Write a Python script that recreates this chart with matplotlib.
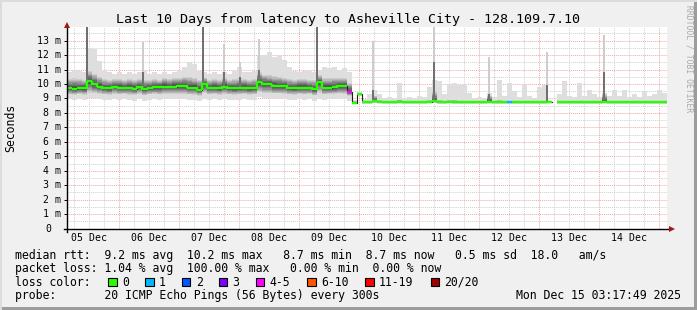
import numpy as np
import matplotlib
matplotlib.use("Agg")
import matplotlib.pyplot as plt
from matplotlib.patches import Rectangle
from matplotlib.lines import Line2D

# ---------------- data ----------------
start_hour = 3.3          # hours after 05 Dec 00:00 (Dec 5 03:18)
step_hours = 2.0          # one sample every 2 hours

median_ms = [
    9.72, 9.68, 9.72, 9.70, 10.20, 10.00, 9.83, 9.72, 9.70, 9.83,
    9.75, 9.75, 9.75, 9.68, 9.83, 9.65, 9.72, 9.78, 9.78, 9.83,
    9.83, 9.83, 9.87, 9.87, 9.75, 9.75, 9.62, 10.00, 9.75, 9.75,
    9.72, 9.83, 9.72, 9.70, 9.72, 9.75, 9.70, 9.72, 10.13, 9.99,
    9.99, 9.87, 9.87, 9.87, 9.72, 9.72, 9.75, 9.75, 9.75, 9.63,
    10.13, 9.75, 9.75, 9.78, 9.87, 9.87, 9.45, 8.68, 9.30, 8.74,
    8.76, 8.80, 8.78, 8.74, 8.76, 8.76, 8.78, 8.76, 8.76, 8.75,
    8.76, 8.76, 8.78, 8.80, 8.74, 8.76, 8.78, 8.76, 8.75, 8.76,
    8.76, 8.74, 8.75, 8.76, 8.78, 8.74, 8.76, 8.75, 8.73, 8.76,
    8.75, 8.76, 8.74, 8.75, 8.76, 8.76, 8.78, np.nan, 8.76, 8.75,
    8.76, 8.74, 8.76, 8.75, 8.76, 8.74, 8.76, 8.78, 8.75, 8.76,
    8.74, 8.76, 8.75, 8.76, 8.74, 8.76, 8.75, 8.76, 8.75, 8.76,
]

loss_count = [0] * 120
loss_count[56] = 4
loss_count[88] = 1
loss_count[97] = 20

smoke_hi = [
    10.85, 11.0, 10.9, 10.8, 12.5, 12.4, 11.6, 10.9, 10.8, 10.7,
    10.8, 10.7, 10.8, 10.7, 10.8, 10.9, 10.7, 10.8, 10.7, 10.8,
    10.7, 10.8, 10.9, 11.2, 11.5, 11.4, 10.9, 10.8, 10.7, 10.8,
    10.7, 10.8, 10.7, 10.9, 11.2, 10.8, 10.8, 10.9, 12.0, 12.0,
    12.2, 11.9, 12.0, 11.7, 11.2, 10.9, 10.8, 10.9, 10.9, 10.8,
    11.0, 11.2, 11.1, 11.2, 11.0, 11.1, 10.8, 8.90, 9.45, 8.95,
    9.30, 9.60, 9.30, 9.00, 9.10, 9.00, 10.1, 9.00, 9.10, 9.00,
    9.20, 9.10, 9.80, 10.3, 10.2, 9.30, 9.95, 10.1, 9.90, 10.0,
    9.40, 9.00, 9.10, 9.00, 9.40, 9.10, 10.3, 9.20, 10.1, 9.50,
    9.10, 9.95, 9.20, 9.00, 9.80, 9.90, 9.40, np.nan, 9.30, 10.2,
    9.20, 9.10, 10.1, 9.20, 9.60, 9.30, 9.10, 9.40, 9.20, 9.60,
    9.20, 9.60, 9.10, 9.30, 9.10, 9.50, 9.20, 9.30, 9.60, 9.40,
]

smoke_hi2 = [
    10.35, 10.40, 10.35, 10.30, 10.90, 10.70, 10.50, 10.35, 10.30, 10.35,
    10.35, 10.30, 10.35, 10.30, 10.35, 10.30, 10.30, 10.35, 10.30, 10.40,
    10.35, 10.40, 10.45, 10.50, 10.50, 10.40, 10.30, 10.45, 10.30, 10.35,
    10.30, 10.40, 10.30, 10.35, 10.40, 10.35, 10.30, 10.35, 10.80, 10.65,
    10.60, 10.55, 10.50, 10.45, 10.35, 10.30, 10.35, 10.35, 10.30, 10.30,
    10.60, 10.40, 10.40, 10.45, 10.45, 10.45, 10.10, 8.82, 9.36, 8.84,
    8.86, 9.20, 8.88, 8.84, 8.85, 8.85, 8.90, 8.85, 8.85, 8.84,
    8.86, 8.85, 8.88, 9.50, 8.90, 8.85, 8.88, 8.88, 8.86, 8.86,
    8.85, 8.84, 8.85, 8.85, 9.20, 8.84, 8.88, 8.85, 8.84, 8.86,
    8.85, 8.86, 8.84, 8.85, 8.86, 8.86, 9.20, np.nan, 8.86, 8.86,
    8.86, 8.84, 8.86, 8.85, 8.86, 8.84, 8.86, 9.30, 8.85, 8.86,
    8.84, 8.86, 8.85, 8.86, 8.84, 8.86, 8.85, 8.86, 8.85, 8.86,
]

smoke_lo2 = [
    9.28, 9.25, 9.30, 9.26, 9.40, 9.35, 9.30, 9.28, 9.25, 9.30,
    9.28, 9.30, 9.26, 9.24, 9.30, 9.22, 9.28, 9.30, 9.28, 9.32,
    9.30, 9.30, 9.34, 9.32, 9.28, 9.26, 9.20, 9.35, 9.28, 9.30,
    9.26, 9.30, 9.28, 9.25, 9.28, 9.30, 9.26, 9.28, 9.45, 9.40,
    9.40, 9.35, 9.35, 9.32, 9.28, 9.26, 9.30, 9.28, 9.30, 9.22,
    9.40, 9.28, 9.30, 9.30, 9.35, 9.32, 9.20, 8.65, 9.22, 8.69,
    8.70, 8.72, 8.72, 8.69, 8.70, 8.70, 8.72, 8.70, 8.70, 8.70,
    8.70, 8.70, 8.72, 8.72, 8.69, 8.70, 8.72, 8.70, 8.70, 8.70,
    8.70, 8.69, 8.70, 8.70, 8.72, 8.69, 8.70, 8.70, 8.68, 8.70,
    8.70, 8.70, 8.69, 8.70, 8.70, 8.70, 8.72, np.nan, 8.70, 8.70,
    8.70, 8.69, 8.70, 8.70, 8.70, 8.69, 8.70, 8.72, 8.70, 8.70,
    8.69, 8.70, 8.70, 8.70, 8.69, 8.70, 8.70, 8.70, 8.70, 8.70,
]

smoke_lo = [
    8.95, 8.90, 8.95, 8.92, 9.05, 9.00, 8.95, 8.92, 8.90, 8.95,
    8.92, 8.95, 8.90, 8.85, 8.95, 8.85, 8.92, 8.95, 8.90, 8.95,
    8.95, 8.95, 8.98, 8.95, 8.92, 8.90, 8.82, 9.00, 8.92, 8.95,
    8.90, 8.95, 8.92, 8.88, 8.92, 8.95, 8.90, 8.92, 9.10, 9.05,
    9.05, 9.00, 9.00, 8.98, 8.92, 8.90, 8.95, 8.92, 8.95, 8.85,
    9.05, 8.92, 8.95, 8.95, 9.00, 8.95, 8.85, 8.62, 9.15, 8.64,
    8.65, 8.66, 8.66, 8.64, 8.65, 8.65, 8.66, 8.65, 8.65, 8.65,
    8.65, 8.65, 8.66, 8.66, 8.64, 8.65, 8.66, 8.65, 8.65, 8.65,
    8.65, 8.64, 8.65, 8.65, 8.66, 8.64, 8.65, 8.65, 8.63, 8.65,
    8.65, 8.65, 8.64, 8.65, 8.65, 8.65, 8.66, np.nan, 8.65, 8.65,
    8.65, 8.64, 8.65, 8.65, 8.65, 8.64, 8.65, 8.66, 8.65, 8.65,
    8.64, 8.65, 8.65, 8.65, 8.64, 8.65, 8.65, 8.65, 8.65, 8.65,
]

# isolated tall pings (hours after 05 Dec 00:00, ms)
spike_hour = [11.3, 33.7, 57.7, 66.1, 72.5, 80.1, 103.3, 125.7, 150.1, 172.1, 195.3, 218.1]
spike_top = [14.5, 12.9, 14.5, 12.8, 11.5, 13.1, 14.5, 13.0, 14.5, 11.9, 12.25, 13.4]
spike_core = [14.5, 10.8, 14.5, 10.8, 10.5, 11.0, 14.5, 9.6, 11.5, 9.3, 9.9, 10.8]

day_labels = ["05 Dec", "06 Dec", "07 Dec", "08 Dec", "09 Dec",
              "10 Dec", "11 Dec", "12 Dec", "13 Dec", "14 Dec"]
y_tick_values = list(range(0, 14))

loss_labels = ["0", "1", "2", "3", "4-5", "6-10", "11-19", "20/20"]
loss_colors = ["#26ff00", "#00b8ff", "#0059ff", "#7e00ff",
               "#ff00ff", "#ff5500", "#ff0000", "#a00000"]

title = "Last 10 Days from latency to Asheville City - 128.109.7.10"
legend_rtt = "median rtt:  9.2 ms avg  10.2 ms max   8.7 ms min  8.7 ms now   0.5 ms sd  18.0   am/s"
legend_loss = "packet loss: 1.04 % avg  100.00 % max   0.00 % min  0.00 % now"
legend_probe = "probe:       20 ICMP Echo Pings (56 Bytes) every 300s"
stamp = "Mon Dec 15 03:17:49 2025"

# ---------------- figure ----------------
plt.rcParams["font.family"] = ["DejaVu Sans Mono", "DejaVu Sans"]
W, H = 697, 310
fig = plt.figure(figsize=(W / 100, H / 100), dpi=100, facecolor="#f0f0f0")

px_left, px_right, px_top, px_bottom = 67, 667, 27, 228.5
ax = fig.add_axes([px_left / W, 1 - px_bottom / H,
                   (px_right - px_left) / W, (px_bottom - px_top) / H])
ax.set_facecolor("white")

n = len(median_ms)
t_edges = start_hour + step_hours * np.arange(n + 1)
end_hour = t_edges[-1]
ax.set_xlim(start_hour, end_hour)
ax.set_ylim(0, 13.95)

def ext(a):
    a = np.asarray(a, dtype=float)
    return np.append(a, a[-1])

med = np.asarray(median_ms, float)
hi = np.asarray(smoke_hi, float)
hi2 = np.asarray(smoke_hi2, float)
lo2 = np.asarray(smoke_lo2, float)
lo = np.asarray(smoke_lo, float)

# grid
major_x = np.arange(24, end_hour, 24)
minor_x = np.arange(6, end_hour, 6)
ax.set_xticks(major_x)
ax.set_xticks(minor_x, minor=True)
ax.set_yticks(y_tick_values)
ax.set_yticks(np.arange(0.5, 14, 1.0), minor=True)
ax.grid(which="minor", color="#cfcfcf", linestyle=(0, (1, 1)), linewidth=0.7)
ax.grid(which="major", color="#f0a8a8", linestyle=(0, (1, 1)), linewidth=0.7)
ax.set_axisbelow(True)
ax.tick_params(axis="x", which="both", length=0, labelbottom=False)
ax.tick_params(axis="y", which="major", length=2.2, width=0.7, direction="out",
               labelleft=False, color="black")
ax.tick_params(axis="y", which="minor", length=0)
for s in ["top", "right", "left", "bottom"]:
    ax.spines[s].set_visible(False)

# smoke: outer envelope then nested darker bands
ax.fill_between(t_edges, ext(lo), ext(hi), step="post", color="#dedede",
                linewidth=0, zorder=2)
band_greys = ["#cdcdcd", "#bababa", "#a6a6a6", "#929292",
              "#7e7e7e", "#6a6a6a", "#565656", "#444444"]
nb = len(band_greys)
for k, g in enumerate(band_greys):
    f = 1.0 - k / nb
    b = med - f * (med - lo2)
    t = med + f * (hi2 - med)
    ax.fill_between(t_edges, ext(b), ext(t), step="post", color=g,
                    linewidth=0, zorder=2)

# spikes
for h, top, core in zip(spike_hour, spike_top, spike_core):
    idx = int((h - start_hour) // step_hours)
    base = med[idx]
    ax.bar(h, top - base, bottom=base, width=0.9, color="#cdcdcd",
           linewidth=0, zorder=2.5)
    ax.bar(h, core - base, bottom=base, width=0.45, color="#707070",
           linewidth=0, zorder=2.6)

# median: thin dark line underneath, then loss-coloured segments
ax.step(t_edges, ext(med), where="post", color="#202020", linewidth=0.8, zorder=3)

def loss_class(c):
    if c <= 3:
        return c
    if c <= 5:
        return 4
    if c <= 10:
        return 5
    if c <= 19:
        return 6
    return 7

cls = [loss_class(c) for c in loss_count]
for i in range(n):
    if np.isnan(med[i]):
        continue
    ax.hlines(med[i], t_edges[i], t_edges[i + 1], colors=loss_colors[cls[i]],
              linewidth=1.7, zorder=4, capstyle="butt")
    if i + 1 < n and not np.isnan(med[i + 1]) and cls[i] == cls[i + 1] \
            and abs(med[i + 1] - med[i]) < 0.52:
        ax.vlines(t_edges[i + 1], min(med[i], med[i + 1]) - 0.04,
                  max(med[i], med[i + 1]) + 0.04,
                  colors=loss_colors[cls[i]], linewidth=1.7, zorder=4)

# axes lines with arrows
ax.add_line(Line2D([0, 0], [-0.015, 1.0], transform=ax.transAxes, color="black",
                   linewidth=1.0, clip_on=False, zorder=5))
ax.add_line(Line2D([-0.005, 1.005], [0, 0], transform=ax.transAxes, color="black",
                   linewidth=1.0, clip_on=False, zorder=5))
ax.plot([0], [1.012], marker="^", markersize=4.5, color="#a01818",
        transform=ax.transAxes, clip_on=False, zorder=6, markeredgewidth=0)
ax.plot([1.0085], [0], marker=">", markersize=4.5, color="#a01818",
        transform=ax.transAxes, clip_on=False, zorder=6, markeredgewidth=0)

# y tick labels
ytr = ax.get_yaxis_transform()
for v in y_tick_values:
    if v == 0:
        ax.text(-18.5 / 600, v, "0", transform=ytr, ha="center", va="center",
                fontsize=7.1)
    else:
        ax.text(-6.0 / 600, v, f"{v} m", transform=ytr, ha="right", va="center",
                fontsize=7.1)

# day labels centred at noon
xtr = ax.get_xaxis_transform()
for k, lab in enumerate(day_labels):
    ax.text(12 + 24 * k, -(241 - px_bottom) / (px_bottom - px_top), lab,
            transform=xtr, ha="center", va="baseline", fontsize=7.1)

# texts
def fx(x):
    return x / W

def fy(y):
    return 1 - y / H

fig.text(fx(348), fy(22.5), title, ha="center", va="baseline", fontsize=9.6)
fig.text(fx(11), fy(128), "Seconds", rotation=90, ha="center", va="center",
         fontsize=8.3)
fig.text(fx(688.5), fy(5), "RRDTOOL / TOBI OETIKER", rotation=270,
         ha="center", va="top", fontsize=5.8, color="#a8a8a8")

fig.text(fx(15.2), fy(258.5), legend_rtt, ha="left", va="baseline", fontsize=8.3)
fig.text(fx(15.2), fy(272), legend_loss, ha="left", va="baseline", fontsize=8.3)
fig.text(fx(15.2), fy(285.5), "loss color:", ha="left", va="baseline", fontsize=8.3)
fig.text(fx(15.2), fy(299), legend_probe, ha="left", va="baseline", fontsize=8.3)
fig.text(fx(681), fy(299), stamp, ha="right", va="baseline", fontsize=8.3)

box_x = [108.3, 145.3, 182.0, 219.0, 255.7, 307.3, 365.3, 430.7]
for bx, lab, col in zip(box_x, loss_labels, loss_colors):
    fig.patches.append(Rectangle((fx(bx), fy(286)), 8.3 / W, 8.3 / H,
                                 transform=fig.transFigure, facecolor=col,
                                 edgecolor="black", linewidth=0.8))
    fig.text(fx(bx + 13.7), fy(285.5), lab, ha="left", va="baseline", fontsize=8.3)

# frame shading (bottom/right darker)
fig.patches.append(Rectangle((0, 0), 1, 3 / H, transform=fig.transFigure,
                             facecolor="#9c9c9c", edgecolor="none"))
fig.patches.append(Rectangle((1 - 3 / W, 0), 3 / W, 1, transform=fig.transFigure,
                             facecolor="#9c9c9c", edgecolor="none"))
fig.patches.append(Rectangle((0, 1 - 2 / H), 1, 2 / H, transform=fig.transFigure,
                             facecolor="#dcdcdc", edgecolor="none"))
fig.patches.append(Rectangle((0, 0), 2 / W, 1, transform=fig.transFigure,
                             facecolor="#dcdcdc", edgecolor="none"))

fig.savefig("out.png", dpi=100, facecolor=fig.get_facecolor())
